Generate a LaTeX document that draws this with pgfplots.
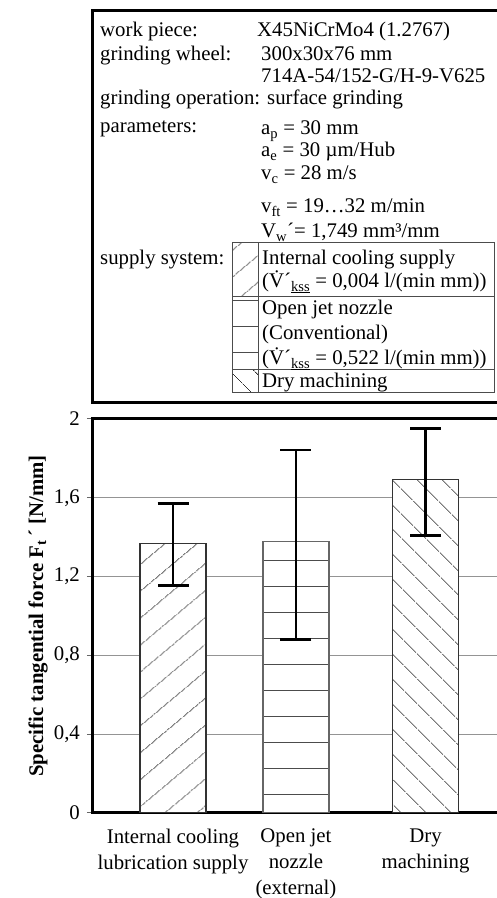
\documentclass[border=0pt]{standalone}
\usepackage{fontspec}
\setmainfont{Liberation Serif}
\usepackage{pgfplots}
\pgfplotsset{compat=1.18}
\usetikzlibrary{patterns.meta}
\begin{document}
\fontsize{20.8pt}{25pt}\selectfont
\begin{tikzpicture}
\useasboundingbox (0pt,0pt) rectangle (497pt,898pt);
\clip (0pt,0pt) rectangle (497pt,898pt);
\begin{scope}[x=1pt,y=1pt]
% ---------- info box ----------
\draw[line width=3pt] (92,887) rectangle (530,495);
\tikzset{t/.style={anchor=base west, inner sep=0pt}}
\node[t] at (100,861) {work piece:};
\node[t] at (257,861) {X45NiCrMo4 (1.2767)};
\node[t] at (100,837) {grinding wheel:};
\node[t] at (261,837) {300x30x76 mm};
\node[t] at (261,815) {714A-54/152-G/H-9-V625};
\node[t] at (100,793) {grinding operation: surface grinding};
\node[t] at (100,765) {parameters:};
\node[t] at (261,763) {a\textsubscript{p} = 30 mm};
\node[t] at (261,741) {a\textsubscript{e} = 30 µm/Hub};
\node[t] at (261,718) {v\textsubscript{c} = 28 m/s};
\node[t] at (261,685) {v\textsubscript{ft} = 19…32 m/min};
\node[t] at (261,660) {V\textsubscript{w}´= 1,749 mm³/mm};
\node[t] at (100,633) {supply system:};
% legend table
\begin{scope}[draw=black!70, line width=1pt]
\fill[white] (232,655) rectangle (494,505);
\path[pattern={Lines[angle=40,distance=20.4pt,line width=0.8pt]}, pattern color=black!80] (232,601) rectangle (258,655);
\path[pattern={Lines[angle=0,distance=26pt,line width=0.8pt]}, pattern color=black!70] (232,528) rectangle (258,601);
\path[pattern={Lines[angle=135,distance=18.4pt,line width=0.8pt]}, pattern color=black!80] (232,505) rectangle (258,528);
\draw (232,655) rectangle (494,505);
\draw (232,601) -- (494,601);
\draw (232,528) -- (494,528);
\draw (258,655) -- (258,505);
\end{scope}
\node[t] at (262,633) {Internal cooling supply};
\node[t] at (262,610) {(\.{V}´\textsubscript{\underline{kss}} = 0,004 l/(min mm))};
\node[t] at (262,583) {Open jet nozzle};
\node[t] at (262,558) {(Conventional)};
\node[t] at (262,533) {(\.{V}´\textsubscript{\underline{kss}} = 0,522 l/(min mm))};
\node[t] at (262,510) {Dry machining};
\end{scope}
% ---------- chart ----------
\begin{axis}[
  at={(92pt,85pt)}, anchor=south west,
  scale only axis, width=420pt, height=394pt,
  xmin=-0.6416, xmax=2.685, ymin=0, ymax=2,
  axis line style={line width=3pt},
  ytick={0,0.4,0.8,1.2,1.6,2},
  yticklabels={0,{0,4},{0,8},{1,2},{1,6},2},
  xtick={0,0.974,2},
  xticklabels={{Internal cooling\\lubrication supply},{Open jet\\nozzle\\(external)},{Dry\\machining}},
  xticklabel style={align=center, yshift=-4pt, font=\fontsize{20.8pt}{26pt}\selectfont},
  x tick style={draw=none},
  y tick style={black!60, line width=1pt},
  tick align=outside, major tick length=5pt,
  ymajorgrids, grid style={black!42, line width=0.8pt},
  ylabel={\bfseries Specific tangential force F\textsubscript{t}\,´ [N/mm]},
  ylabel style={at={(axis description cs:-0.1286,0.5)}, anchor=center},
]
\addplot[ybar, bar shift=0pt, bar width=66pt, draw=black!80, line width=1.1pt, fill=white,
  postaction={pattern={Lines[angle=40,distance=20.4pt,line width=0.8pt]}, pattern color=black!80}]
  coordinates {(0,1.369)};
\addplot[ybar, bar shift=0pt, bar width=66pt, draw=black!60, line width=1.1pt, fill=white,
  postaction={pattern={Lines[angle=0,distance=26pt,line width=0.9pt]}, pattern color=black!70}]
  coordinates {(0.974,1.378)};
\addplot[ybar, bar shift=0pt, bar width=66pt, draw=black!80, line width=1.1pt, fill=white,
  postaction={pattern={Lines[angle=135,distance=18.4pt,line width=0.8pt]}, pattern color=black!80}]
  coordinates {(2,1.693)};
\addplot[draw=none, mark=none, forget plot,
  error bars/.cd, y dir=both, y explicit,
  error bar style={draw=black, line width=2.5pt},
  error mark options={draw=black, line width=2.5pt, mark size=15.5pt, rotate=90}]
  coordinates {
    (0,1.369) += (0,0.201) -= (0,0.214)
    (0.974,1.378) += (0,0.465) -= (0,0.498)
    (2,1.693) += (0,0.260) -= (0,0.285)
  };
\end{axis}
\end{tikzpicture}
\end{document}
